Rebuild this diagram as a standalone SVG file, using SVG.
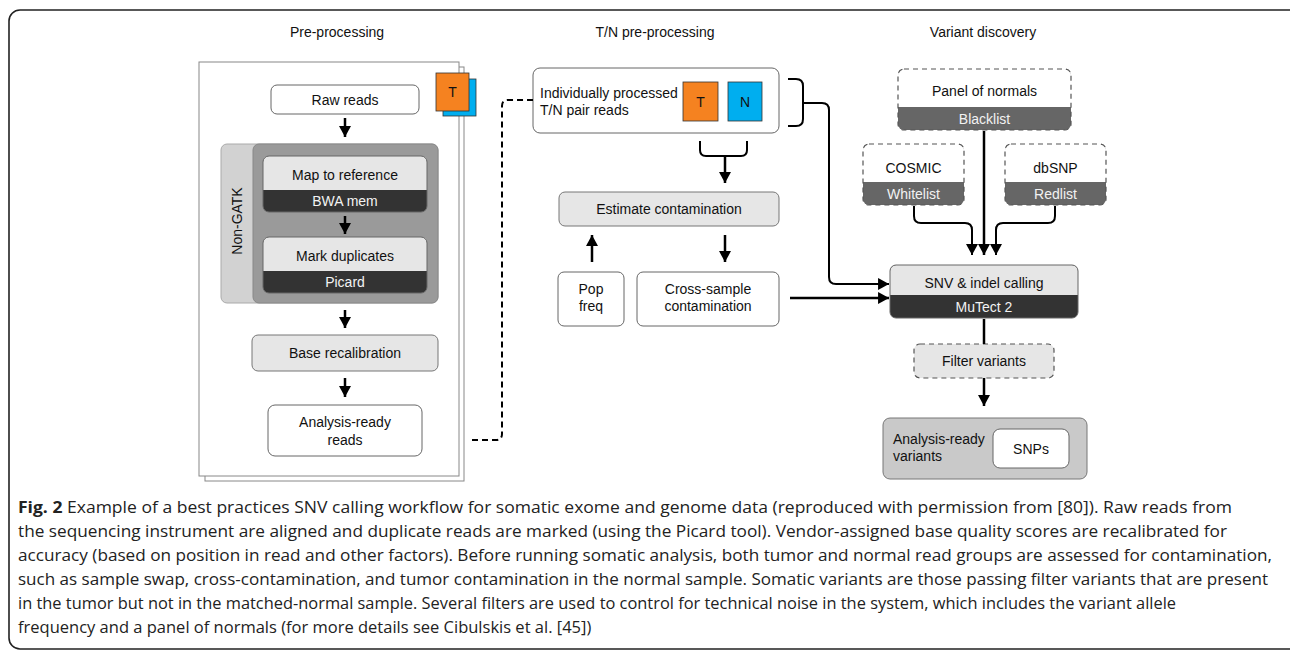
<svg xmlns="http://www.w3.org/2000/svg" width="1290" height="657" viewBox="0 0 1290 657">
<defs>
<marker id="ah" markerUnits="userSpaceOnUse" markerWidth="12" markerHeight="12" refX="10" refY="5.5" orient="auto" viewBox="0 0 10 11">
<path d="M0,0 L10,5.5 L0,11 z" fill="#000"/>
</marker>
<style>
.t{font-family:"Liberation Sans",Arial,sans-serif;font-size:14px;fill:#111;text-anchor:middle}
.tl{font-family:"Liberation Sans",Arial,sans-serif;font-size:14px;fill:#111}
.tw{font-family:"Liberation Sans",Arial,sans-serif;font-size:14px;fill:#f2f2f2;text-anchor:middle}
.cap{font-family:"Open Sans","Noto Sans",sans-serif;font-size:16.5px;fill:#222}
.wbox{fill:#fff;stroke:#666;stroke-width:1}
.gbox{fill:#e6e6e6;stroke:#777;stroke-width:1}
.dash{fill:none;stroke:#555;stroke-width:1.2;stroke-dasharray:5,4}
.c{fill:none;stroke:#000;stroke-width:2.5}
.c2{fill:none;stroke:#000;stroke-width:2}
</style>
</defs>
<rect width="1290" height="657" fill="#fff"/>
<rect x="9" y="10" width="1300" height="639" rx="11" fill="none" stroke="#222" stroke-width="1.6"/>

<text class="t" x="337" y="37">Pre-processing</text>
<text class="t" x="655" y="37">T/N pre-processing</text>
<text class="t" x="983" y="37">Variant discovery</text>

<g id="pages">
<rect x="205" y="67" width="259" height="414" fill="#fff" stroke="#888" stroke-width="1"/>
<rect x="199" y="62" width="260" height="414" fill="#fff" stroke="#888" stroke-width="1"/>
</g>
<g id="tn-icon">
<rect x="443" y="79" width="33" height="37" fill="#00aeef" stroke="#333" stroke-width="0.8"/>
<rect x="436" y="73" width="33" height="38" fill="#f58220" stroke="#333" stroke-width="0.8"/>
<text class="t" x="452.5" y="97">T</text>
</g>

<g id="raw-reads">
<rect class="wbox" x="271" y="85" width="148" height="29" rx="6"/>
<text class="t" x="345" y="105">Raw reads</text>
</g>

<g id="non-gatk">
<rect x="221" y="144" width="217" height="159" rx="6" fill="#d2d2d2" stroke="#aaa" stroke-width="1"/>
<rect x="253" y="144" width="185" height="159" rx="6" fill="#9a9a9a" stroke="#888" stroke-width="1"/>
<text class="t" transform="translate(242,221) rotate(-90)">Non-GATK</text>
</g>

<g id="map-ref">
<rect x="263" y="156" width="164" height="56" rx="6" fill="#333"/>
<path d="M263,190 V162 Q263,156 269,156 H421 Q427,156 427,162 V190 Z" fill="#e6e6e6"/>
<rect x="263" y="156" width="164" height="56" rx="6" fill="none" stroke="#666" stroke-width="1"/>
<text class="t" x="345" y="180">Map to reference</text>
<text class="tw" x="345" y="206">BWA mem</text>
</g>

<g id="mark-dup">
<rect x="263" y="237" width="164" height="56" rx="6" fill="#333"/>
<path d="M263,271 V243 Q263,237 269,237 H421 Q427,237 427,243 V271 Z" fill="#e6e6e6"/>
<rect x="263" y="237" width="164" height="56" rx="6" fill="none" stroke="#666" stroke-width="1"/>
<text class="t" x="345" y="261">Mark duplicates</text>
<text class="tw" x="345" y="287">Picard</text>
</g>

<g id="base-recal">
<rect class="gbox" x="252" y="335" width="186" height="36" rx="6"/>
<text class="t" x="345" y="358">Base recalibration</text>
</g>

<g id="analysis-reads">
<rect class="wbox" x="268" y="405" width="154" height="51" rx="7"/>
<text class="t" x="345" y="427">Analysis-ready</text>
<text class="t" x="345" y="445">reads</text>
</g>

<g id="tn-pair">
<rect class="wbox" x="533" y="68" width="246" height="65" rx="7"/>
<text class="tl" x="540" y="98">Individually processed</text>
<text class="tl" x="540" y="115">T/N pair reads</text>
<rect x="683" y="82" width="35" height="39" fill="#f58220" stroke="#333" stroke-width="0.8"/>
<text class="t" x="700.5" y="107">T</text>
<rect x="728" y="82" width="34" height="39" fill="#00aeef" stroke="#333" stroke-width="0.8"/>
<text class="t" x="745" y="107">N</text>
</g>

<g id="est-contam">
<rect class="gbox" x="559" y="192" width="220" height="34" rx="6"/>
<text class="t" x="669" y="214">Estimate contamination</text>
</g>

<g id="pop-freq">
<rect class="wbox" x="558" y="272" width="66" height="54" rx="6"/>
<text class="t" x="591" y="294">Pop</text>
<text class="t" x="591" y="311">freq</text>
</g>

<g id="cross-sample">
<rect class="wbox" x="637" y="272" width="142" height="54" rx="6"/>
<text class="t" x="708" y="294">Cross-sample</text>
<text class="t" x="708" y="311">contamination</text>
</g>

<g id="panel-normals">
<rect x="898" y="69" width="173" height="61" rx="6" fill="#666"/>
<path d="M898,107 V75 Q898,69 904,69 H1065 Q1071,69 1071,75 V107 Z" fill="#fff"/>
<rect class="dash" x="898" y="69" width="173" height="61" rx="6"/>
<text class="t" x="984.5" y="96">Panel of normals</text>
<text class="tw" x="984.5" y="124">Blacklist</text>
</g>

<g id="cosmic">
<rect x="863" y="144" width="101" height="61" rx="6" fill="#666"/>
<path d="M863,182 V150 Q863,144 869,144 H958 Q964,144 964,150 V182 Z" fill="#fff"/>
<rect class="dash" x="863" y="144" width="101" height="61" rx="6"/>
<text class="t" x="913.5" y="173">COSMIC</text>
<text class="tw" x="913.5" y="199">Whitelist</text>
</g>

<g id="dbsnp">
<rect x="1005" y="144" width="101" height="61" rx="6" fill="#666"/>
<path d="M1005,182 V150 Q1005,144 1011,144 H1100 Q1106,144 1106,150 V182 Z" fill="#fff"/>
<rect class="dash" x="1005" y="144" width="101" height="61" rx="6"/>
<text class="t" x="1055.5" y="173">dbSNP</text>
<text class="tw" x="1055.5" y="199">Redlist</text>
</g>

<g id="snv-calling">
<rect x="890" y="265" width="188" height="53" rx="6" fill="#333"/>
<path d="M890,295 V271 Q890,265 896,265 H1072 Q1078,265 1078,271 V295 Z" fill="#e6e6e6"/>
<rect x="890" y="265" width="188" height="53" rx="6" fill="none" stroke="#666" stroke-width="1"/>
<text class="t" x="984" y="288">SNV &amp; indel calling</text>
<text class="tw" x="984" y="312">MuTect 2</text>
</g>

<g id="filter-variants">
<rect x="914" y="344" width="140" height="34" rx="6" fill="#e6e6e6"/>
<rect class="dash" x="914" y="344" width="140" height="34" rx="6"/>
<text class="t" x="984" y="366">Filter variants</text>
</g>

<g id="analysis-variants">
<rect x="883" y="418" width="204" height="61" rx="7" fill="#c9c9c9" stroke="#777" stroke-width="1"/>
<text class="tl" x="893" y="444">Analysis-ready</text>
<text class="tl" x="893" y="461">variants</text>
<rect class="wbox" x="993" y="429" width="76" height="39" rx="7"/>
<text class="t" x="1031" y="454">SNPs</text>
</g>

<g id="connectors">
<line class="c" x1="345" y1="118" x2="345" y2="137" marker-end="url(#ah)"/>
<line class="c" x1="345" y1="216" x2="345" y2="234" marker-end="url(#ah)"/>
<line class="c" x1="345" y1="310" x2="345" y2="328" marker-end="url(#ah)"/>
<line class="c" x1="345" y1="378" x2="345" y2="397" marker-end="url(#ah)"/>
<path d="M472,440 L496,440 Q502,440 502,434 L502,106 Q502,100 508,100 L533,100" fill="none" stroke="#000" stroke-width="2" stroke-dasharray="6,4"/>
<path class="c2" d="M788,79 L796,79 Q803,79 803,86 L803,119 Q803,126 796,126 L788,126"/>
<path class="c2" d="M803,103 L822,103 Q829,103 829,110 L829,277 Q829,284 836,284 L889,284" marker-end="url(#ah)"/>
<path class="c2" d="M700,141 L700,150 Q700,156 706,156 L741,156 Q747,156 747,150 L747,141"/>
<line class="c" x1="725" y1="156" x2="725" y2="183" marker-end="url(#ah)"/>
<line class="c" x1="592" y1="262" x2="592" y2="235" marker-end="url(#ah)"/>
<line class="c" x1="725" y1="235" x2="725" y2="262" marker-end="url(#ah)"/>
<line class="c" x1="790" y1="298" x2="889" y2="298" stroke-width="3" marker-end="url(#ah)"/>
<line class="c" x1="984" y1="131" x2="984" y2="255" marker-end="url(#ah)"/>
<path class="c2" d="M914,206 L914,216 Q914,223 921,223 L965,223 Q972,223 972,230 L972,255" marker-end="url(#ah)"/>
<path class="c2" d="M1055,206 L1055,216 Q1055,223 1048,223 L1003,223 Q996,223 996,230 L996,255" marker-end="url(#ah)"/>
<line class="c" x1="984" y1="319" x2="984" y2="344"/>
<line class="c" x1="984" y1="378" x2="984" y2="406" marker-end="url(#ah)"/>
</g>

<g id="caption">
<text class="cap" x="18" y="513" textLength="1214" lengthAdjust="spacingAndGlyphs"><tspan font-weight="bold">Fig. 2</tspan> Example of a best practices SNV calling workflow for somatic exome and genome data (reproduced with permission from [80]). Raw reads from</text>
<text class="cap" x="18" y="537" textLength="1209" lengthAdjust="spacingAndGlyphs">the sequencing instrument are aligned and duplicate reads are marked (using the Picard tool). Vendor-assigned base quality scores are recalibrated for</text>
<text class="cap" x="18" y="561" textLength="1254" lengthAdjust="spacingAndGlyphs">accuracy (based on position in read and other factors). Before running somatic analysis, both tumor and normal read groups are assessed for contamination,</text>
<text class="cap" x="18" y="585" textLength="1250" lengthAdjust="spacingAndGlyphs">such as sample swap, cross-contamination, and tumor contamination in the normal sample. Somatic variants are those passing filter variants that are present</text>
<text class="cap" x="18" y="609" textLength="1158" lengthAdjust="spacingAndGlyphs">in the tumor but not in the matched-normal sample. Several filters are used to control for technical noise in the system, which includes the variant allele</text>
<text class="cap" x="18" y="633">frequency and a panel of normals (for more details see Cibulskis et al. [45])</text>
</g>
</svg>
